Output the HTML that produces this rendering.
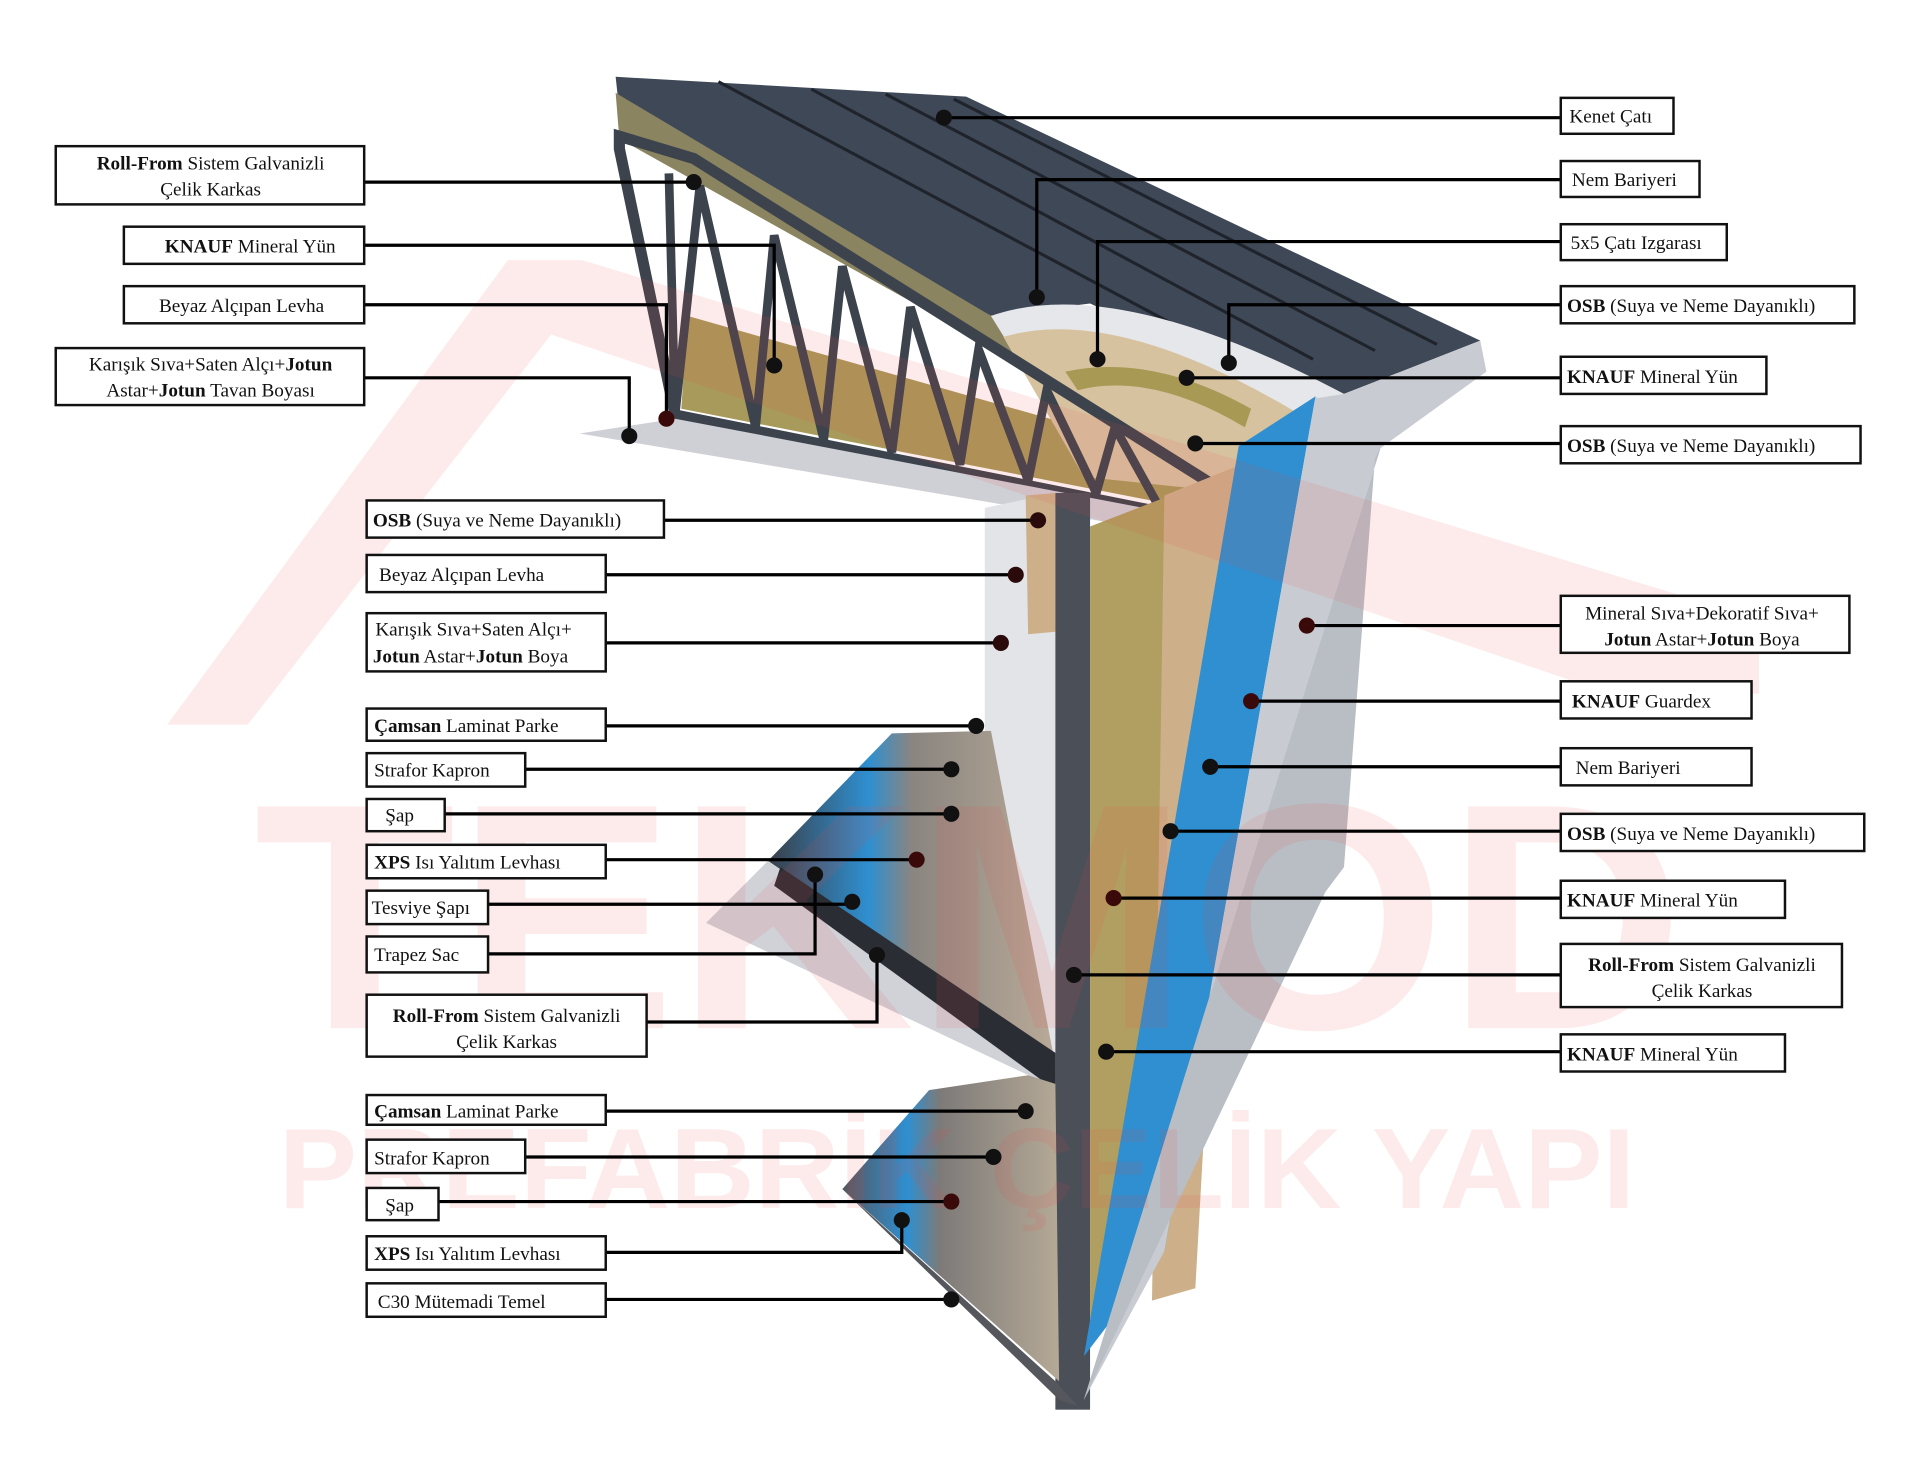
<!DOCTYPE html>
<html><head><meta charset="utf-8"><style>
html,body{margin:0;padding:0;background:#fff;}
svg{display:block;}
text{font-family:"Liberation Serif",serif;font-size:15.5px;fill:#111;}
.b{font-weight:bold;}
</style></head><body>
<svg width="1920" height="1471" viewBox="0 0 1550 1187.5" preserveAspectRatio="none" xmlns="http://www.w3.org/2000/svg">
<rect width="1550" height="1188" fill="#fff"/>
<defs>
<linearGradient id="fl" x1="0" y1="0" x2="1" y2="0"><stop offset="0" stop-color="#3a3f48"/><stop offset="0.35" stop-color="#2f8fd0"/><stop offset="0.5" stop-color="#8a8580"/><stop offset="1" stop-color="#b9aa98"/></linearGradient>
<linearGradient id="fl2" x1="0" y1="0" x2="1" y2="0"><stop offset="0" stop-color="#55565c"/><stop offset="0.3" stop-color="#2f8fd0"/><stop offset="0.45" stop-color="#7d7a78"/><stop offset="1" stop-color="#b5a996"/></linearGradient>
</defs>
<!-- roof -->
<polygon points="555,255 960,370 960,410 550,330" fill="#a89a5a"/>
<polygon points="497,62 780,78 1195,275 1085,318 1000,300 880,245 800,255 500,90" fill="#3f4856"/>
<polygon points="497,75 800,255 830,300 985,400 980,380 500,112" fill="#8a8460"/>
<g stroke="#1f242c" stroke-width="2.5">
<line x1="580" y1="66" x2="1000" y2="290"/><line x1="655" y1="72" x2="1060" y2="290"/><line x1="715" y1="76" x2="1110" y2="283"/><line x1="770" y1="80" x2="1160" y2="278"/>
</g>
<path d="M800,255 Q900,220 1085,318 L1000,398 L880,385 Z" fill="#e6e7ea"/>
<path d="M810,272 Q900,245 1050,335 L1000,398 L875,385 Z" fill="#d7c2a0"/>
<path d="M860,300 Q930,285 1010,330 L1005,345 Q930,300 870,315 Z" fill="#a89a55"/>
<polygon points="1195,275 1200,300 1110,365 1060,322 1085,318" fill="#c8ccd2"/>
<!-- truss -->
<polygon points="500,110 560,128 985,395 970,420 545,335 500,120" fill="none" stroke="#3c434d" stroke-width="9"/>
<polyline points="540,140 545,335 565,150 610,345 625,190 665,355 680,215 720,365 735,248 775,375 790,282 830,388 845,315 885,398 900,345 935,408" fill="none" stroke="#3c434d" stroke-width="7"/>
<polygon points="468,350 545,338 965,418 945,430" fill="#cfcfd6"/>
<!-- wall -->
<polygon points="795,410 852,398 852,870 795,640" fill="#e3e4e8"/>
<polygon points="828,400 852,398 852,510 830,512" fill="#cdb08a"/>
<rect x="852" y="398" width="28" height="740" fill="#4a4f58"/>
<polygon points="880,425 950,398 948,1010 880,1065" fill="#b09f60"/>
<polygon points="940,400 1002,375 965,1040 930,1050" fill="#cdb08a"/>
<polygon points="1000,360 1062,320 940,1010 875,1095" fill="#2f8fd0"/>
<polygon points="1062,320 1115,360 875,1130 940,1010" fill="#c8ccd2"/>
<polygon points="1115,360 1110,370 1085,700 1070,720 875,1130" fill="#b9bec5"/>
<!-- floors -->
<polygon points="620,695 720,592 800,590 852,860 852,880 760,790" fill="url(#fl)"/>
<polygon points="570,745 620,695 852,860 845,875" fill="#d0d2d8"/>
<polygon points="630,700 852,850 852,880 625,715" fill="#2a2d33"/>
<polygon points="680,960 750,880 830,868 852,875 855,1115" fill="url(#fl2)"/>
<polygon points="680,960 852,1115 870,1135 855,1130" fill="#55575d"/>
<!-- watermark -->
<g fill="#f04848" opacity="0.11">
<polygon points="135,585 410,210 470,210 1420,500 1420,560 1300,560 445,270 200,585"/>
<text x="205" y="830" style="font-family:'Liberation Sans',sans-serif;font-size:260px;font-weight:bold;fill:#f04848" textLength="1155" lengthAdjust="spacingAndGlyphs">TEKMOD</text>
<text x="225" y="975" style="font-family:'Liberation Sans',sans-serif;font-size:92px;font-weight:bold;fill:#f04848" textLength="1095" lengthAdjust="spacingAndGlyphs">PREFABRİK ÇELİK YAPI</text>
</g>
<!-- leader lines -->
<g stroke="#000" stroke-width="2.6" fill="none">
<polyline points="294,147 560,147"/><polyline points="294,198 625,198 625,295"/><polyline points="294,246 538,246 538,338"/><polyline points="294,305 508,305 508,352"/>
<polyline points="536,420 838,420"/><polyline points="489,464 820,464"/><polyline points="489,519 808,519"/><polyline points="489,586 788,586"/>
<polyline points="424,621 768,621"/><polyline points="359,657 768,657"/><polyline points="489,694 740,694"/><polyline points="394,730 688,730"/>
<polyline points="394,770 658,770 658,706"/><polyline points="522,825 708,825 708,771"/>
<polyline points="489,897 828,897"/><polyline points="424,934 802,934"/><polyline points="354,970 768,970"/><polyline points="489,1011 728,1011 728,985"/><polyline points="489,1049 768,1049"/>
<polyline points="1260,95 762,95"/><polyline points="1260,145 837,145 837,240"/><polyline points="1260,195 886,195 886,290"/><polyline points="1260,246 992,246 992,293"/>
<polyline points="1260,305 958,305"/><polyline points="1260,358 965,358"/><polyline points="1260,505 1055,505"/><polyline points="1260,566 1010,566"/><polyline points="1260,619 977,619"/><polyline points="1260,671 945,671"/><polyline points="1260,725 899,725"/><polyline points="1260,787 867,787"/><polyline points="1260,849 893,849"/>
</g>
<g fill="#111">
<circle cx="560" cy="147" r="6.5"/><circle cx="625" cy="295" r="6.5"/><circle cx="538" cy="338" r="6.5" fill="#3a0a0a"/><circle cx="508" cy="352" r="6.5"/>
<circle cx="838" cy="420" r="6.5" fill="#2a0a0a"/><circle cx="820" cy="464" r="6.5" fill="#2a0a0a"/><circle cx="808" cy="519" r="6.5" fill="#2a0a0a"/><circle cx="788" cy="586" r="6.5"/><circle cx="768" cy="621" r="6.5"/><circle cx="768" cy="657" r="6.5"/><circle cx="740" cy="694" r="6.5" fill="#3a0a0a"/><circle cx="688" cy="728" r="6.5"/><circle cx="658" cy="706" r="6.5"/><circle cx="708" cy="771" r="6.5"/>
<circle cx="828" cy="897" r="6.5"/><circle cx="802" cy="934" r="6.5"/><circle cx="768" cy="970" r="6.5" fill="#3a0a0a"/><circle cx="728" cy="985" r="6.5"/><circle cx="768" cy="1049" r="6.5"/>
<circle cx="762" cy="95" r="6.5"/><circle cx="837" cy="240" r="6.5"/><circle cx="886" cy="290" r="6.5"/><circle cx="992" cy="293" r="6.5"/><circle cx="958" cy="305" r="6.5"/><circle cx="965" cy="358" r="6.5"/><circle cx="1055" cy="505" r="6.5" fill="#3a0a0a"/><circle cx="1010" cy="566" r="6.5" fill="#3a0a0a"/><circle cx="977" cy="619" r="6.5"/><circle cx="945" cy="671" r="6.5"/><circle cx="899" cy="725" r="6.5" fill="#3a0a0a"/><circle cx="867" cy="787" r="6.5"/><circle cx="893" cy="849" r="6.5"/>
</g>
<!-- boxes -->
<g fill="#fff" stroke="#111" stroke-width="2">
<rect x="45" y="118" width="249" height="47"/><rect x="100" y="183" width="194" height="30"/><rect x="100" y="231" width="194" height="30"/><rect x="45" y="281" width="249" height="46"/>
<rect x="296" y="404" width="240" height="30"/><rect x="296" y="448" width="193" height="30"/><rect x="296" y="495" width="193" height="47"/><rect x="296" y="572" width="193" height="26"/>
<rect x="296" y="608" width="128" height="27"/><rect x="296" y="645" width="63" height="26"/><rect x="296" y="682" width="193" height="27"/><rect x="296" y="719" width="98" height="27"/><rect x="296" y="756" width="98" height="29"/><rect x="296" y="803" width="226" height="50"/>
<rect x="296" y="884" width="193" height="24"/><rect x="296" y="920" width="128" height="27"/><rect x="296" y="959" width="58" height="26"/><rect x="296" y="998" width="193" height="27"/><rect x="296" y="1036" width="193" height="27"/>
<rect x="1260" y="79" width="91" height="29"/><rect x="1260" y="130" width="112" height="29"/><rect x="1260" y="181" width="134" height="29"/><rect x="1260" y="231" width="237" height="30"/><rect x="1260" y="288" width="166" height="30"/><rect x="1260" y="344" width="242" height="30"/>
<rect x="1260" y="481" width="233" height="46"/><rect x="1260" y="550" width="154" height="30"/><rect x="1260" y="604" width="154" height="30"/><rect x="1260" y="657" width="245" height="30"/><rect x="1260" y="711" width="181" height="30"/><rect x="1260" y="762" width="227" height="51"/><rect x="1260" y="835" width="181" height="30"/>
</g>
<g>
<text x="170" y="137" text-anchor="middle"><tspan class="b">Roll-From</tspan> Sistem Galvanizli</text><text x="170" y="158" text-anchor="middle">Çelik Karkas</text>
<text x="202" y="204" text-anchor="middle"><tspan class="b">KNAUF</tspan> Mineral Yün</text>
<text x="195" y="252" text-anchor="middle">Beyaz Alçıpan Levha</text>
<text x="170" y="299" text-anchor="middle">Karışık Sıva+Saten Alçı+<tspan class="b">Jotun</tspan></text><text x="170" y="320" text-anchor="middle">Astar+<tspan class="b">Jotun</tspan> Tavan Boyası</text>
<text x="301" y="425"><tspan class="b">OSB</tspan> (Suya ve Neme Dayanıklı)</text>
<text x="306" y="469">Beyaz Alçıpan Levha</text>
<text x="303" y="513">Karışık Sıva+Saten Alçı+</text><text x="301" y="535"><tspan class="b">Jotun</tspan> Astar+<tspan class="b">Jotun</tspan>  Boya</text>
<text x="302" y="591"><tspan class="b">Çamsan</tspan> Laminat Parke</text>
<text x="302" y="627">Strafor Kapron</text>
<text x="311" y="663">Şap</text>
<text x="302" y="701"><tspan class="b">XPS</tspan> Isı Yalıtım Levhası</text>
<text x="300" y="738">Tesviye Şapı</text>
<text x="302" y="776">Trapez Sac</text>
<text x="409" y="825" text-anchor="middle"><tspan class="b">Roll-From</tspan> Sistem Galvanizli</text><text x="409" y="846" text-anchor="middle">Çelik Karkas</text>
<text x="302" y="902"><tspan class="b">Çamsan</tspan> Laminat Parke</text>
<text x="302" y="940">Strafor Kapron</text>
<text x="311" y="978">Şap</text>
<text x="302" y="1017"><tspan class="b">XPS</tspan> Isı Yalıtım Levhası</text>
<text x="305" y="1056">C30 Mütemadi Temel</text>
<text x="1267" y="99">Kenet Çatı</text>
<text x="1269" y="150">Nem Bariyeri</text>
<text x="1268" y="201">5x5 Çatı Izgarası</text>
<text x="1265" y="252"><tspan class="b">OSB</tspan> (Suya ve Neme Dayanıklı)</text>
<text x="1265" y="309"><tspan class="b">KNAUF</tspan> Mineral Yün</text>
<text x="1265" y="365"><tspan class="b">OSB</tspan> (Suya ve Neme Dayanıklı)</text>
<text x="1374" y="500" text-anchor="middle">Mineral Sıva+Dekoratif Sıva+</text><text x="1374" y="521" text-anchor="middle"><tspan class="b">Jotun</tspan> Astar+<tspan class="b">Jotun</tspan> Boya</text>
<text x="1269" y="571"><tspan class="b">KNAUF</tspan> Guardex</text>
<text x="1272" y="625">Nem Bariyeri</text>
<text x="1265" y="678"><tspan class="b">OSB</tspan> (Suya ve Neme Dayanıklı)</text>
<text x="1265" y="732"><tspan class="b">KNAUF</tspan> Mineral Yün</text>
<text x="1374" y="784" text-anchor="middle"><tspan class="b">Roll-From</tspan> Sistem Galvanizli</text><text x="1374" y="805" text-anchor="middle">Çelik Karkas</text>
<text x="1265" y="856"><tspan class="b">KNAUF</tspan> Mineral Yün</text>
</g>
</svg>
</body></html>
